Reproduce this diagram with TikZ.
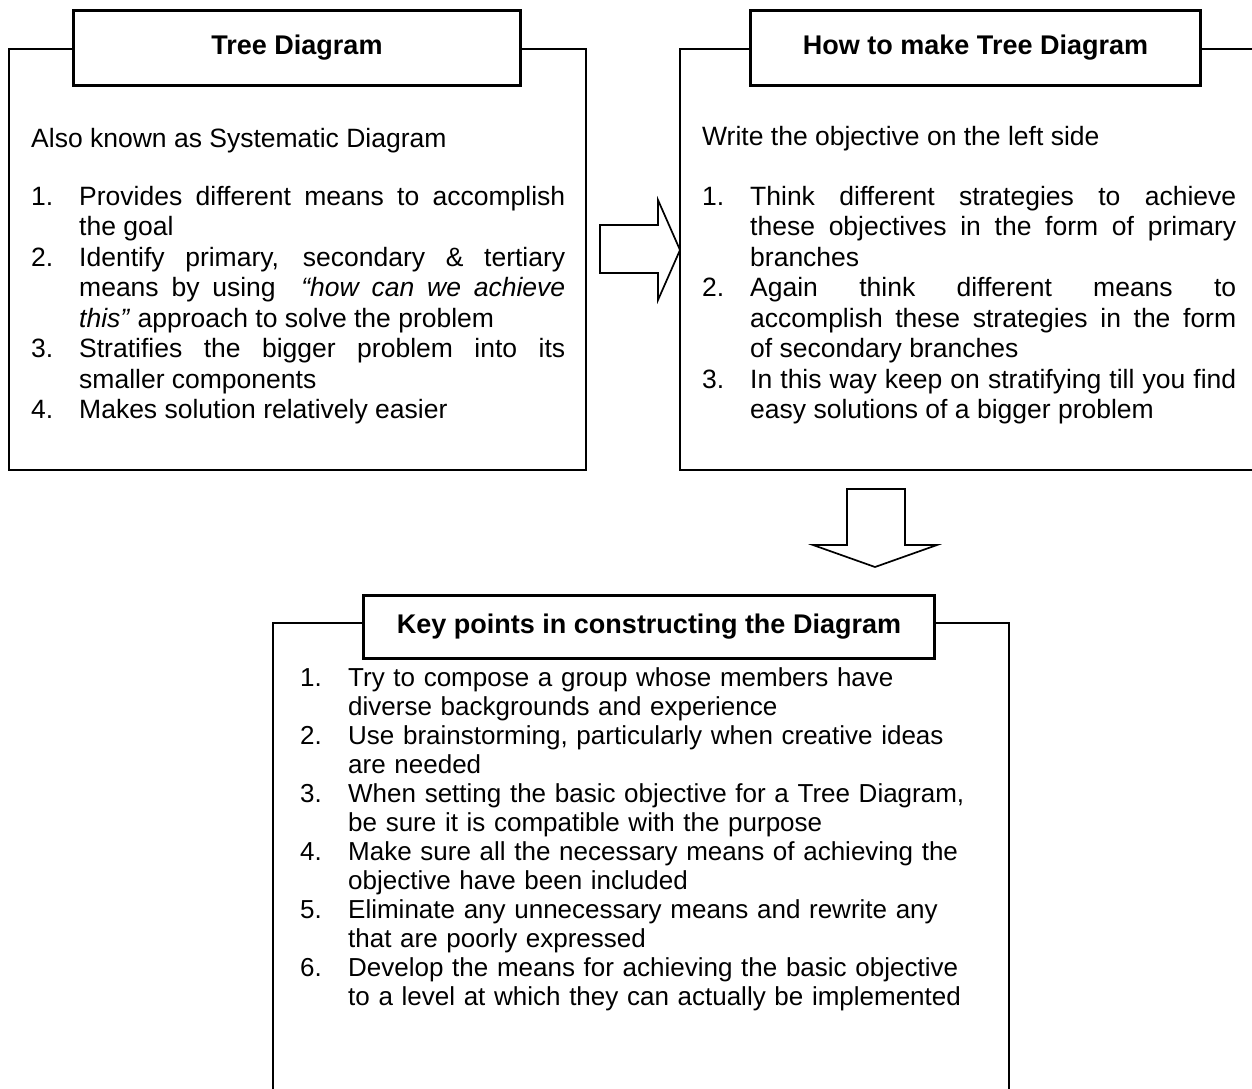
\documentclass[tikz,border=0pt]{standalone}
\usepackage{fontspec}
\setmainfont{Liberation Sans}
\tolerance=9999
% numbered entry with a hanging indent; closes its own paragraph
\newcommand\numitem[2]{\noindent\hangindent=48pt\hangafter=1\makebox[48pt][l]{#1}#2\par}
\begin{document}
\begin{tikzpicture}[x=1pt,y=-1pt,
  frame/.style={draw, line width=1.5pt, inner sep=0pt, anchor=north west},
  titlebox/.style={draw, line width=3.3pt, fill=white, inner sep=0pt,
    font=\fontsize{27}{32}\selectfont\bfseries},
  body/.style={inner sep=0pt, anchor=base west,
    font=\fontsize{26.5}{30.5}\selectfont},
  blockarrow/.style={draw, line width=1.7pt, line join=miter}]
\useasboundingbox (0,0) rectangle (1252,1088);
\fill[white] (0,0) rectangle (1252,1088);

% outer frames
\node[frame, minimum width=577pt, minimum height=421pt] (lframe) at (8,48) {};
\node[frame, minimum width=600pt, minimum height=421pt] (rframe) at (679,48) {};
\node[frame, minimum width=736pt, minimum height=520pt] (bframe) at (272,622) {};

% title boxes sitting on the frames
\node[titlebox, minimum width=446.7pt, minimum height=74.7pt] (ltitle) at (297,48) {Tree Diagram};
\node[titlebox, minimum width=449.7pt, minimum height=74.7pt] (rtitle) at (975.5,48) {How to make Tree Diagram};
\node[titlebox, minimum width=570.7pt, minimum height=62.7pt] (btitle) at (649,627) {Key points in constructing the Diagram};

% left panel text
\node[body, text width=534pt, align=justify] (ltext) at (31,147) {%
Also known as Systematic Diagram\par\vskip27.5pt
\numitem{1.}{Provides different means to accomplish\linebreak the goal}
\numitem{2.}{Identify primary, secondary \& tertiary\linebreak means by using \ \textit{“how can we achieve\linebreak this”} approach to solve the problem}
\numitem{3.}{Stratifies the bigger problem into its\linebreak smaller components}
\numitem{4.}{Makes solution relatively easier}};

% right panel text
\node[body, text width=534pt, align=justify] (rtext) at (702,145) {%
Write the objective on the left side\par\vskip29.5pt
\numitem{1.}{Think different strategies to achieve\linebreak these objectives in the form of primary\linebreak branches}
\numitem{2.}{Again think different means to\linebreak accomplish these strategies in the form\linebreak of secondary branches}
\numitem{3.}{In this way keep on stratifying till you find\linebreak easy solutions of a bigger problem}};

% bottom panel text
\node[body, text width=700pt, align=left,
  font=\fontsize{26}{29}\selectfont] (btext) at (300,686) {%
\numitem{1.}{Try to compose a group whose members have\newline diverse backgrounds and experience}
\numitem{2.}{Use brainstorming, particularly when creative ideas\newline are needed}
\numitem{3.}{When setting the basic objective for a Tree Diagram,\newline be sure it is compatible with the purpose}
\numitem{4.}{Make sure all the necessary means of achieving the\newline objective have been included}
\numitem{5.}{Eliminate any unnecessary means and rewrite any\newline that are poorly expressed}
\numitem{6.}{Develop the means for achieving the basic objective\newline to a level at which they can actually be implemented}};

% block arrows between the panels
\draw[blockarrow] (600,225) -- (658,225) -- (658,200) -- (680,250)
  -- (658,300) -- (658,273) -- (600,273) -- cycle;
\draw[blockarrow] (847,489) -- (905,489) -- (905,545) -- (937,545)
  -- (875,567) -- (813,545) -- (847,545) -- cycle;
\end{tikzpicture}
\end{document}
